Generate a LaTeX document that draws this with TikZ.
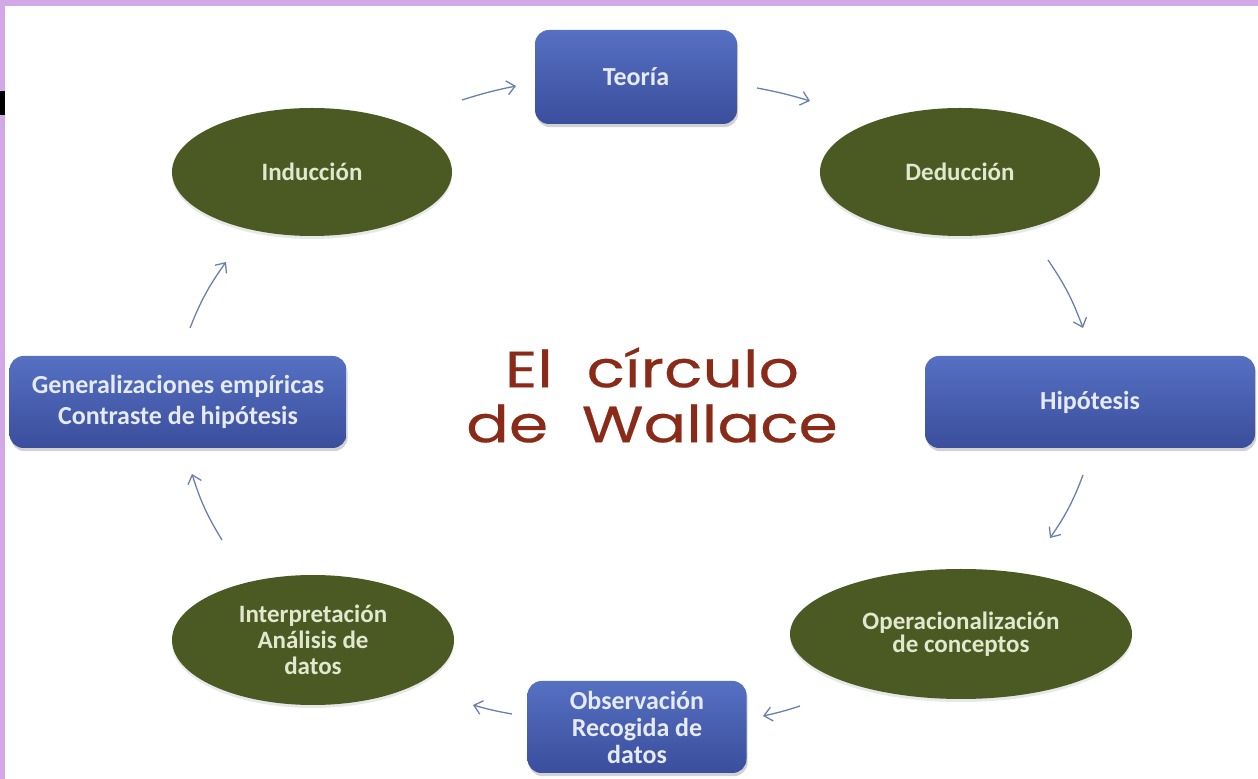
\documentclass[tikz,border=0pt]{standalone}
\usepackage{fontspec}
\setmainfont{Carlito}
\newfontfamily\titlefont[FakeStretch=1.24,FakeBold=0.4]{Poppins}
\usetikzlibrary{shadows,shapes.geometric,arrows.meta}
\definecolor{lilac}{HTML}{D2A8E6}
\definecolor{boxtop}{HTML}{5670C2}
\definecolor{boxbot}{HTML}{3A4E9C}
\definecolor{boxtext}{HTML}{E6EAF4}
\definecolor{olivefill}{HTML}{4B5A22}
\definecolor{olivetext}{HTML}{E2E7CF}
\definecolor{arrowc}{HTML}{6A80AE}
\definecolor{titlered}{HTML}{8A2B19}
\tikzset{
  stagebox/.style={rectangle, rounded corners=7pt, top color=boxtop, bottom color=boxbot,
    text=boxtext, font=\bfseries\fontsize{13}{13.5}\selectfont, align=center, inner sep=2pt,
    drop shadow={opacity=0.35, shadow xshift=0.6pt, shadow yshift=-1.6pt}},
  stageell/.style={ellipse, fill=olivefill, text=olivetext, inner sep=0pt,
    font=\bfseries\fontsize{12.5}{13}\selectfont, align=center,
    drop shadow={opacity=0.18, shadow xshift=0pt, shadow yshift=-1.5pt}},
  flow/.style={draw=arrowc, line width=0.65pt, -{Straight Barb[length=4pt,width=7pt]}}
}
\begin{document}
\begin{tikzpicture}[x=0.5pt,y=-0.5pt]
\useasboundingbox (0,0) rectangle (1258,779);
\fill[white] (0,0) rectangle (1258,779);
% frame pieces
\fill[lilac] (0,0) rectangle (1258,6);
\fill[lilac] (0,0) rectangle (5,779);
\fill[black] (0,91) rectangle (5,115);

% nodes
\node[stagebox, minimum width=101pt, minimum height=47pt] (teo) at (636,77) {Teoría};
\node[stageell, minimum width=140pt, minimum height=64pt] (ind) at (312,172) {Inducción};
\node[stageell, minimum width=140pt, minimum height=64pt] (ded) at (960,172) {Deducción};
\node[stagebox, minimum width=165pt, minimum height=46pt] (hip) at (1090,402) {Hipótesis};
\node[stagebox, minimum width=168.5pt, minimum height=46pt] (gen) at (178,402)
  {Generalizaciones empíricas\\[2pt]Contraste de hipótesis};
\node[stageell, minimum width=141pt, minimum height=65pt] (int) at (313,640)
  {Interpretación\\Análisis de\\datos};
\node[stageell, minimum width=171pt, minimum height=65pt] (ope) at (961,634)
  {Operacionalización\\[-1.5pt]de conceptos};
\node[stagebox, minimum width=109.5pt, minimum height=46pt] (obs) at (637,727)
  {Observación\\Recogida de\\datos};

% title
\node[text=titlered, font=\titlefont\fontsize{25.5}{27.5}\selectfont, align=center] (title) at (652,395)
  {El\ \ círculo\\de\ \ Wallace};

% arrow end points
\coordinate (a1s) at (462,100); \coordinate (a1e) at (516,86);
\coordinate (a2s) at (757,88);  \coordinate (a2e) at (810,101);
\coordinate (a3s) at (1048,260); \coordinate (a3e) at (1083,328);
\coordinate (a4s) at (1083,475); \coordinate (a4e) at (1050,538);
\coordinate (a5s) at (800,706); \coordinate (a5e) at (763,716);
\coordinate (a6s) at (512,714); \coordinate (a6e) at (473,705);
\coordinate (a7s) at (222,540); \coordinate (a7e) at (192,474);
\coordinate (a8s) at (190,328); \coordinate (a8e) at (226,262);

\draw[flow] (a1s) to[bend left=3] (a1e);
\draw[flow] (a2s) to[bend left=3] (a2e);
\draw[flow] (a3s) to[bend left=7] (a3e);
\draw[flow] (a4s) to[bend left=7] (a4e);
\draw[flow] (a5s) to[bend left=3] (a5e);
\draw[flow] (a6s) to[bend left=3] (a6e);
\draw[flow] (a7s) to[bend left=7] (a7e);
\draw[flow] (a8s) to[bend left=7] (a8e);
\end{tikzpicture}
\end{document}
